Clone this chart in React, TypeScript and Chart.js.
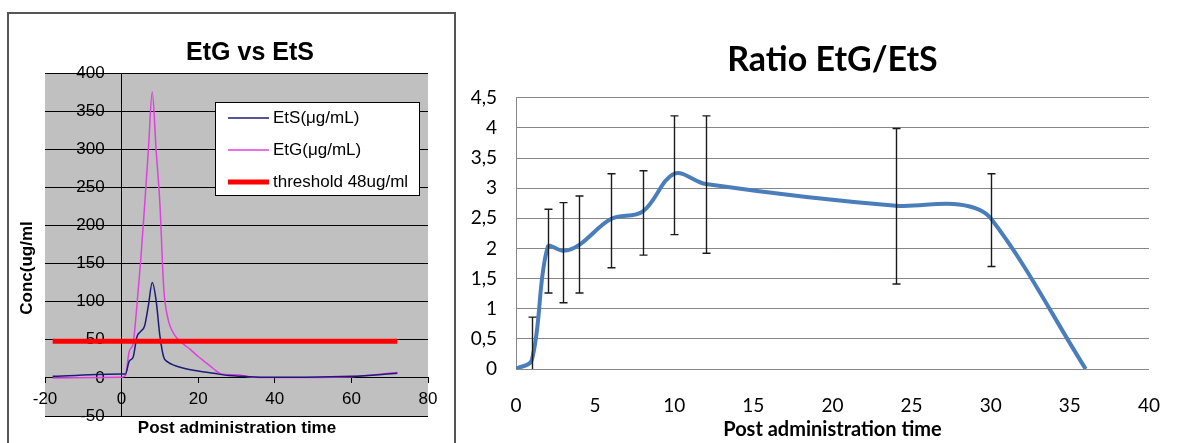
import React, { useEffect, useRef } from "react";
import { Chart, registerables } from "chart.js";

Chart.register(...registerables);

// ---------- Left chart: EtG vs EtS ----------
const ETS_X = [-18, 0, 1, 2, 3, 4, 5, 6, 7, 8, 9, 10, 11, 12, 14, 16, 20, 24, 28, 32, 36, 48, 60, 72];
const ETS_Y = [2, 5, 5, 22, 27, 54, 61, 68, 95, 125, 102, 55, 27, 21, 16, 13, 9, 6, 3, 2, 1, 1, 2, 6];
const ETG_X = [-18, 0, 1, 2, 3, 4, 5, 6, 7, 8, 9, 10, 11, 12, 14, 16, 18, 20, 22, 24, 26, 30, 34, 48, 60, 72];
const ETG_Y = [0, 1, 3, 35, 45, 95, 155, 225, 300, 375, 300, 228, 118, 80, 55, 45, 37, 28, 20, 12, 5, 4, 1, 0.5, 1.5, 7];
const THRESHOLD_X = [-18, 72];
const THRESHOLD_Y = [48, 48];
const LEFT_X_TICKS = ["-20", "0", "20", "40", "60", "80"];
const LEFT_Y_TICKS = ["-50", "0", "50", "100", "150", "200", "250", "300", "350", "400"];
const LEFT_SERIES = ["EtS(μg/mL)", "EtG(μg/mL)", "threshold 48ug/ml"];

// ---------- Right chart: Ratio EtG/EtS ----------
const RATIO_X = [0, 1, 2, 3, 4, 6, 8, 10, 12, 24, 28, 30, 36];
const RATIO_Y = [0, 0.15, 2.02, 1.96, 2.06, 2.49, 2.61, 3.24, 3.07, 2.71, 2.73, 2.5, 0];
const RATIO_ERR_LOW = [null, -0.56, 1.26, 1.1, 1.26, 1.68, 1.89, 2.23, 1.92, 1.41, null, 1.7, null];
const RATIO_ERR_HIGH = [null, 0.86, 2.65, 2.76, 2.87, 3.24, 3.29, 4.2, 4.2, 3.99, null, 3.24, null];
const RIGHT_X_TICKS = ["0", "5", "10", "15", "20", "25", "30", "35", "40"];
const RIGHT_Y_TICKS = ["0", "0,5", "1", "1,5", "2", "2,5", "3", "3,5", "4", "4,5"];

const ARIAL = "'Liberation Sans', Arial, sans-serif";
const CALI = "Lato, 'Open Sans', sans-serif";

const leftDecor = {
  id: "leftDecor",
  beforeDraw(chart: any) {
    const { ctx, chartArea: a } = chart;
    ctx.save();
    ctx.fillStyle = "#c0c0c0";
    ctx.fillRect(a.left, a.top, a.right - a.left, a.bottom - a.top);
    ctx.restore();
  },
  beforeDatasetsDraw(chart: any) {
    // y tick labels sit to the left of the y axis, which crosses at x = 0
    const { ctx, scales } = chart;
    const ax = scales.x.getPixelForValue(0);
    ctx.save();
    ctx.fillStyle = "#000";
    ctx.font = `17px ${ARIAL}`;
    ctx.textAlign = "right";
    ctx.textBaseline = "middle";
    scales.y.ticks.forEach((t: any, i: number) => {
      ctx.fillText(LEFT_Y_TICKS[i], ax - 17, scales.y.getPixelForValue(t.value));
    });
    ctx.restore();
  },
  afterDraw(chart: any) {
    const { ctx } = chart;
    ctx.save();
    ctx.fillStyle = "#000";
    ctx.textAlign = "center";
    ctx.textBaseline = "middle";
    ctx.font = `bold 25px ${ARIAL}`;
    ctx.fillText("EtG vs EtS", 250, 53);
    ctx.font = `bold 17px ${ARIAL}`;
    ctx.fillText("Post administration time", 237, 428);
    ctx.save();
    ctx.translate(27, 268);
    ctx.rotate(-Math.PI / 2);
    ctx.font = `bold 17px ${ARIAL}`;
    ctx.fillText("Conc(ug/ml", 0, 0);
    ctx.restore();

    // legend box
    ctx.fillStyle = "#fff";
    ctx.fillRect(215, 102, 205, 94);
    ctx.strokeStyle = "#000";
    ctx.lineWidth = 1;
    ctx.strokeRect(215.5, 102.5, 204, 93);
    const ys = [118, 150, 182];
    chart.data.datasets.forEach((ds: any) => {
      const idx = LEFT_SERIES.indexOf(ds.label);
      const y = ys[idx];
      ctx.strokeStyle = ds.borderColor;
      ctx.lineWidth = ds.borderWidth;
      ctx.beginPath();
      ctx.moveTo(228, y);
      ctx.lineTo(269, y);
      ctx.stroke();
      ctx.fillStyle = "#000";
      ctx.textAlign = "left";
      ctx.font = `17px ${ARIAL}`;
      ctx.fillText(ds.label, 273, y);
    });
    ctx.restore();
  },
};

const errorBars = {
  id: "errorBars",
  afterDatasetsDraw(chart: any) {
    const { ctx, chartArea: a, scales } = chart;
    const xs = scales.x;
    const ysc = scales.y;
    ctx.save();
    ctx.beginPath();
    ctx.rect(a.left, a.top - 1, a.right - a.left, a.bottom - a.top + 1);
    ctx.clip();
    ctx.strokeStyle = "#1a1a1a";
    ctx.lineWidth = 1.4;
    RATIO_X.forEach((xv, i) => {
      const lo = RATIO_ERR_LOW[i];
      const hi = RATIO_ERR_HIGH[i];
      if (lo == null || hi == null) return;
      const px = Math.round(xs.getPixelForValue(xv)) + 0.5;
      const pl = ysc.getPixelForValue(lo);
      const ph = ysc.getPixelForValue(hi);
      ctx.beginPath();
      ctx.moveTo(px, pl);
      ctx.lineTo(px, ph);
      ctx.moveTo(px - 4, ph);
      ctx.lineTo(px + 4, ph);
      ctx.moveTo(px - 4, pl);
      ctx.lineTo(px + 4, pl);
      ctx.stroke();
    });
    ctx.restore();
  },
};

function LeftChart() {
  const ref = useRef<HTMLCanvasElement>(null);
  useEffect(() => {
    const chart = new Chart(ref.current as HTMLCanvasElement, {
      type: "line",
      data: {
        datasets: [
          {
            label: LEFT_SERIES[2],
            data: THRESHOLD_X.map((x, i) => ({ x, y: THRESHOLD_Y[i] })),
            borderColor: "#ff0000",
            borderWidth: 5,
            pointRadius: 0,
            order: 0,
          },
          {
            label: LEFT_SERIES[0],
            data: ETS_X.map((x, i) => ({ x, y: ETS_Y[i] })),
            borderColor: "#1c1c78",
            borderWidth: 1.5,
            pointRadius: 0,
            cubicInterpolationMode: "monotone",
            order: 1,
          },
          {
            label: LEFT_SERIES[1],
            data: ETG_X.map((x, i) => ({ x, y: ETG_Y[i] })),
            borderColor: "#e040e0",
            borderWidth: 1.5,
            pointRadius: 0,
            cubicInterpolationMode: "monotone",
            order: 2,
          },
        ],
      },
      options: {
        animation: false,
        responsive: false,
        layout: { padding: { left: 45, right: 28, top: 73, bottom: 27 } },
        plugins: {
          legend: { display: false },
          title: { display: false },
          tooltip: { enabled: false },
        },
        scales: {
          x: {
            type: "linear",
            position: { y: 0 } as any,
            min: -20,
            max: 80,
            ticks: {
              stepSize: 20,
              autoSkip: false,
              maxRotation: 0,
              padding: 6,
              color: "#000",
              font: { family: ARIAL, size: 17 },
              callback: (_v: any, i: number) => LEFT_X_TICKS[i],
            },
            grid: { drawOnChartArea: false, drawTicks: true, tickLength: 5, color: "#000" },
            border: { display: true, color: "#000", width: 1 },
          },
          y: {
            type: "linear",
            position: { x: 0 } as any,
            min: -50,
            max: 400,
            ticks: { stepSize: 50, display: false },
            grid: { color: "#000", drawTicks: false },
            border: { display: true, color: "#000", width: 1 },
          },
        },
      } as any,
      plugins: [leftDecor],
    });
    return () => chart.destroy();
  }, []);
  return (
    <canvas
      ref={ref}
      width={456}
      height={443}
      style={{ position: "absolute", left: 0, top: 0, width: 456, height: 443 }}
    />
  );
}

function RightChart() {
  const ref = useRef<HTMLCanvasElement>(null);
  useEffect(() => {
    const chart = new Chart(ref.current as HTMLCanvasElement, {
      type: "line",
      data: {
        datasets: [
          {
            label: "Ratio EtG/EtS",
            data: RATIO_X.map((x, i) => ({ x, y: RATIO_Y[i] })),
            borderColor: "#4a7ebb",
            borderWidth: 4,
            pointRadius: 0,
            tension: 0.35,
          },
        ],
      },
      options: {
        animation: false,
        responsive: false,
        layout: { padding: { left: 0, right: 15, top: 0, bottom: 0 } },
        plugins: {
          legend: { display: false },
          tooltip: { enabled: false },
          title: {
            display: true,
            fullSize: false,
            text: "Ratio EtG/EtS",
            color: "#000",
            font: { family: CALI, size: 34, weight: "bold" },
            padding: { top: 40, bottom: 17 },
          },
        },
        scales: {
          x: {
            type: "linear",
            min: 0,
            max: 40,
            ticks: {
              stepSize: 5,
              autoSkip: false,
              maxRotation: 0,
              padding: 17,
              color: "#000",
              font: { family: CALI, size: 19 },
              callback: (_v: any, i: number) => RIGHT_X_TICKS[i],
            },
            grid: { display: false },
            border: { display: false },
            title: {
              display: true,
              text: "Post administration time",
              color: "#000",
              font: { family: CALI, size: 20, weight: "bold" },
              padding: { top: 0, bottom: 1 },
            },
            afterFit: (s: any) => {
              s.height = 74;
            },
          },
          y: {
            type: "linear",
            min: 0,
            max: 4.5,
            ticks: {
              stepSize: 0.5,
              autoSkip: false,
              padding: 19,
              color: "#000",
              font: { family: CALI, size: 19 },
              callback: (_v: any, i: number) => RIGHT_Y_TICKS[i],
            },
            grid: { color: "#878787", drawTicks: false },
            border: { display: true, color: "#878787" },
            afterFit: (s: any) => {
              s.width = 59;
            },
          },
        },
      } as any,
      plugins: [errorBars],
    });
    return () => chart.destroy();
  }, []);
  return (
    <canvas
      ref={ref}
      width={720}
      height={443}
      style={{ position: "absolute", left: 457, top: 0, width: 720, height: 443 }}
    />
  );
}

export default function App() {
  return (
    <div
      style={{
        position: "fixed",
        left: 0,
        top: 0,
        width: 1177,
        height: 443,
        background: "#fff",
        overflow: "hidden",
      }}
    >
      <LeftChart />
      <div
        style={{
          position: "absolute",
          left: 7,
          top: 12,
          width: 449,
          height: 440,
          boxSizing: "border-box",
          borderLeft: "2px solid #555",
          borderTop: "2px solid #555",
          borderRight: "2px solid #555",
          pointerEvents: "none",
        }}
      />
      <RightChart />
    </div>
  );
}
